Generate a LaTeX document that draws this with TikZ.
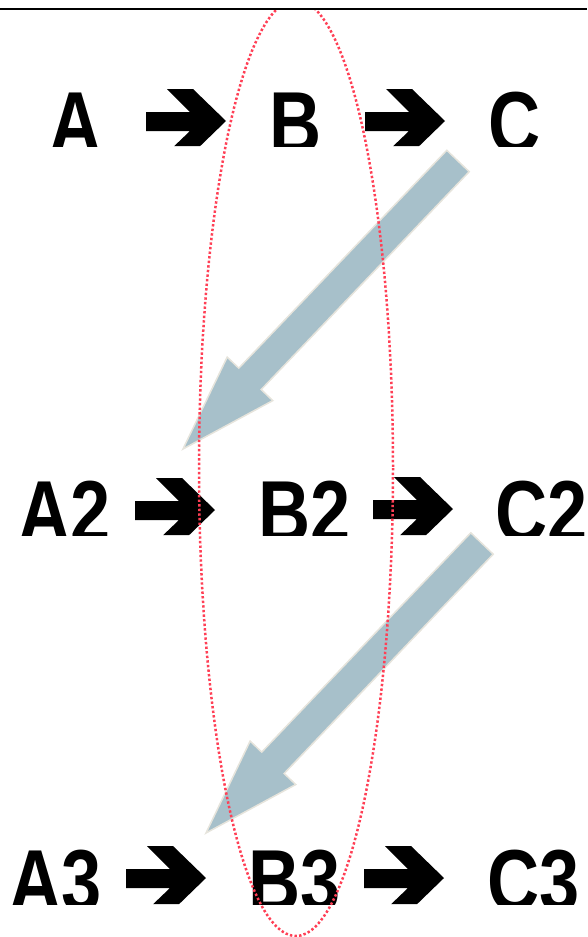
\documentclass[tikz,border=0pt]{standalone}
\usepackage{fontspec}
\setmainfont{Liberation Sans}[FakeStretch=0.82]
\usetikzlibrary{calc}
\definecolor{ovred}{HTML}{FF3F55}
\definecolor{flowblue}{HTML}{A7C0CA}
\definecolor{flowedge}{HTML}{E6E4DC}

\tikzset{
  lbl/.style={inner sep=0pt, anchor=base, font=\fontsize{88}{88}\selectfont\bfseries},
  flow/.style={fill=flowblue, draw=flowedge, line width=1.5pt, line join=miter},
}
% wide block arrow, tail #1 to tip #2
\newcommand{\bigflow}[2]{%
  \coordinate (#1base) at ($(#2)!97pt!(#1)$);
  \filldraw[flow] ($(#1)!15.5pt!90:(#2)$) -- ($(#1base)!15.5pt!90:(#2)$)
    -- ($(#1base)!31.5pt!90:(#2)$) -- (#2) -- ($(#1base)!31.5pt!-90:(#2)$)
    -- ($(#1base)!15.5pt!-90:(#2)$) -- ($(#1)!15.5pt!-90:(#2)$) -- cycle;
}

\begin{document}
\begin{tikzpicture}[x=1pt,y=-1pt]
  \useasboundingbox (0,0) rectangle (587,937);
  % three rows, cut off at the bottom
  \begin{scope}
    \clip (0,0) rectangle (587,146) (0,400) rectangle (587,535) (0,800) rectangle (587,904);
    \node[lbl] (a1) at (75.5,153) {A};
    \node[lbl] (b1) at (295.5,153) {B};
    \node[lbl] (c1) at (514.5,153) {C};
    \node[lbl] (a2) at (64.5,542) {A2};
    \node[lbl] (b2) at (304.5,542) {B2};
    \node[lbl] (c2) at (542,542) {C2};
    \node[lbl] (a3) at (55.5,911) {A3};
    \node[lbl] (b3) at (295,911) {B3};
    \node[lbl] (c3) at (534,911) {C3};
    % black arrows between the letters
    \foreach \x/\y in {226/121,445/121,215/510,453/509,206/878,444/878}{
      \fill[shift={(\x,\y)}] (0,0) -- (-33,-32) -- (-59,-32) -- (-36,-9) -- (-80,-9)
        -- (-80,10) -- (-36,10) -- (-59,32) -- (-33,32) -- cycle;
    }
  \end{scope}
  % block arrows down to the next row
  \coordinate (c1tail) at (458,161);
  \coordinate (a2tip) at (183,449);
  \coordinate (c2tail) at (482,543.5);
  \coordinate (a3tip) at (206,833);
  \bigflow{c1tail}{a2tip}
  \bigflow{c2tail}{a3tip}
  % rule at the top
  \draw[line width=2.2pt] (0,9) -- (587,9);
  % dotted ring round the B column
  \begin{scope}
    \clip (0,10.2) rectangle (587,937);
    \draw[ovred, line width=2.5pt, dash pattern=on 2.4pt off 2.2pt] (296,468) ellipse [x radius=97, y radius=468];
  \end{scope}
\end{tikzpicture}
\end{document}
